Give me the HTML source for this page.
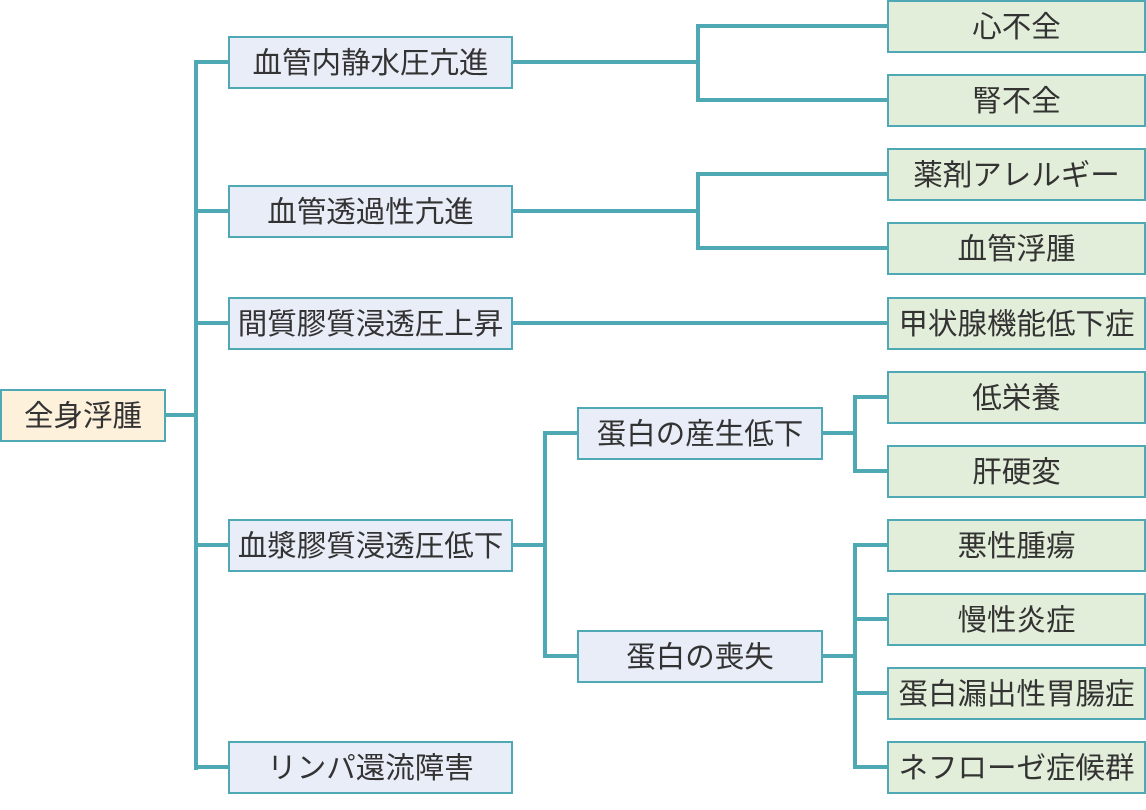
<!DOCTYPE html>
<html><head><meta charset="utf-8"><style>
body{margin:0;width:1146px;height:810px;background:#fff;position:relative;overflow:hidden;font-family:"Liberation Sans","Noto Sans CJK JP",sans-serif}
.b{position:absolute;box-sizing:border-box;border:2px solid #4ea9b4;display:flex;align-items:center;justify-content:center;font-size:29.5px;color:#333;height:53px;white-space:nowrap;padding-bottom:3px}
.r{background:#fdf1dc}
.l{background:#e8edf8}
.g{background:#e2eed9}
.h,.v{position:absolute;background:#4ea9b4}
.h{height:4px}.v{width:4px}
</style></head><body>
<div class="h" style="left:164px;top:413px;width:33px"></div>
<div class="v" style="left:194px;top:60px;height:710px"></div>
<div class="h" style="left:194px;top:60px;width:35px"></div>
<div class="h" style="left:194px;top:209px;width:35px"></div>
<div class="h" style="left:194px;top:321px;width:35px"></div>
<div class="h" style="left:194px;top:543px;width:35px"></div>
<div class="h" style="left:194px;top:765px;width:35px"></div>

<div class="h" style="left:511px;top:60px;width:189px"></div>
<div class="v" style="left:696px;top:24px;height:78px"></div>
<div class="h" style="left:696px;top:24px;width:192px"></div>
<div class="h" style="left:696px;top:98px;width:192px"></div>

<div class="h" style="left:511px;top:209px;width:189px"></div>
<div class="v" style="left:696px;top:172px;height:78px"></div>
<div class="h" style="left:696px;top:172px;width:192px"></div>
<div class="h" style="left:696px;top:246px;width:192px"></div>

<div class="h" style="left:511px;top:321px;width:377px"></div>

<div class="h" style="left:511px;top:543px;width:36px"></div>
<div class="v" style="left:543px;top:431px;height:227px"></div>
<div class="h" style="left:543px;top:431px;width:35px"></div>
<div class="h" style="left:543px;top:654px;width:35px"></div>

<div class="h" style="left:821px;top:431px;width:36px"></div>
<div class="v" style="left:853px;top:395px;height:78px"></div>
<div class="h" style="left:853px;top:395px;width:35px"></div>
<div class="h" style="left:853px;top:469px;width:35px"></div>

<div class="h" style="left:821px;top:654px;width:36px"></div>
<div class="v" style="left:853px;top:543px;height:226px"></div>
<div class="h" style="left:853px;top:543px;width:35px"></div>
<div class="h" style="left:853px;top:617px;width:35px"></div>
<div class="h" style="left:853px;top:691px;width:35px"></div>
<div class="h" style="left:853px;top:765px;width:35px"></div>

<div class="b r" style="left:0;top:389px;width:166px">全身浮腫</div>
<div class="b l" style="left:228px;top:36px;width:285px">血管内静水圧亢進</div>
<div class="b l" style="left:228px;top:185px;width:285px">血管透過性亢進</div>
<div class="b l" style="left:228px;top:297px;width:285px">間質膠質浸透圧上昇</div>
<div class="b l" style="left:228px;top:519px;width:285px">血漿膠質浸透圧低下</div>
<div class="b l" style="left:228px;top:741px;width:285px">リンパ還流障害</div>
<div class="b l" style="left:577px;top:407px;width:246px">蛋白の産生低下</div>
<div class="b l" style="left:577px;top:630px;width:246px">蛋白の喪失</div>

<div class="b g" style="left:887px;top:0;width:259px">心不全</div>
<div class="b g" style="left:887px;top:74px;width:259px">腎不全</div>
<div class="b g" style="left:887px;top:148px;width:259px">薬剤アレルギー</div>
<div class="b g" style="left:887px;top:222px;width:259px">血管浮腫</div>
<div class="b g" style="left:887px;top:297px;width:259px">甲状腺機能低下症</div>
<div class="b g" style="left:887px;top:371px;width:259px">低栄養</div>
<div class="b g" style="left:887px;top:445px;width:259px">肝硬変</div>
<div class="b g" style="left:887px;top:519px;width:259px">悪性腫瘍</div>
<div class="b g" style="left:887px;top:593px;width:259px">慢性炎症</div>
<div class="b g" style="left:887px;top:667px;width:259px">蛋白漏出性胃腸症</div>
<div class="b g" style="left:887px;top:741px;width:259px">ネフローゼ症候群</div>
</body></html>
